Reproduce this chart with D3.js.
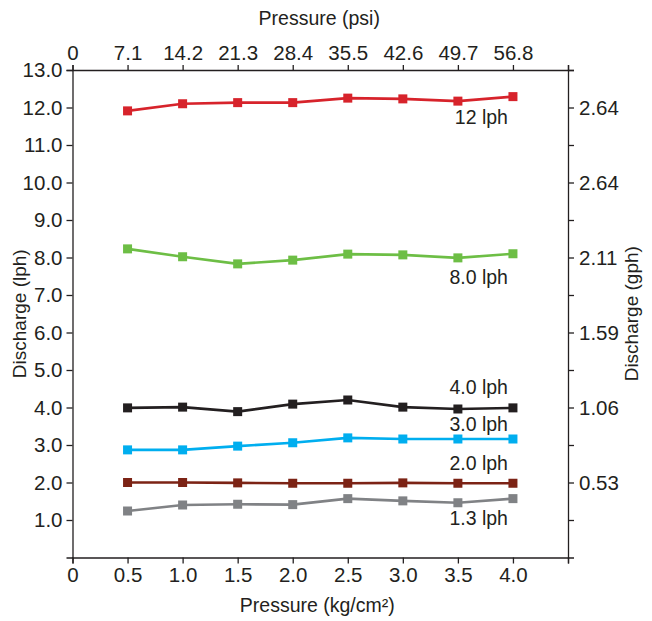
<!DOCTYPE html>
<html>
<head>
<meta charset="utf-8">
<script src="https://cdn.jsdelivr.net/npm/d3@7"></script>
<style>
  body { margin: 0; background: #fff; }
  text { font-family: Arial, "Liberation Sans", sans-serif; fill: #231f20; }
</style>
</head>
<body>
<div id="chart"></div>
<script>
var svgWidth = 652;
var svgHeight = 621;

// data
var pressureKg = [0.5, 1.0, 1.5, 2.0, 2.5, 3.0, 3.5, 4.0];
var psiTicks = ["0", "7.1", "14.2", "21.3", "28.4", "35.5", "42.6", "49.7", "56.8", ""];
var gphTicks = ["0.53", "1.06", "1.59", "2.11", "2.64", "2.64"];

var s12 = [11.91, 12.10, 12.13, 12.13, 12.25, 12.23, 12.17, 12.29];
var s8 = [8.23, 8.02, 7.83, 7.93, 8.09, 8.07, 7.99, 8.10];
var s4 = [3.99, 4.01, 3.89, 4.09, 4.20, 4.01, 3.96, 3.99];
var s3 = [2.87, 2.87, 2.97, 3.06, 3.19, 3.16, 3.16, 3.16];
var s2 = [2.00, 2.00, 1.99, 1.98, 1.98, 1.99, 1.98, 1.98];
var s13 = [1.24, 1.40, 1.42, 1.41, 1.57, 1.51, 1.46, 1.57];

var seriesNames = ["12 lph", "8.0 lph", "4.0 lph", "3.0 lph", "2.0 lph", "1.3 lph"];
var seriesValues = [s12, s8, s4, s3, s2, s13];
var seriesColors = ["#d7232b", "#6dbe45", "#231f20", "#00aeef", "#7c2315", "#808285"];

var chartMargin = { top: 70, right: 84, bottom: 63.5, left: 72.5 };
var chartWidth = svgWidth - chartMargin.left - chartMargin.right;
var chartHeight = svgHeight - chartMargin.top - chartMargin.bottom;

var svg = d3.select("#chart")
  .append("svg")
  .attr("width", svgWidth)
  .attr("height", svgHeight);

var chartGroup = svg.append("g")
  .attr("transform", `translate(${chartMargin.left}, ${chartMargin.top})`);

// scales
var xScale = d3.scaleLinear().domain([0, 4.5]).range([0, chartWidth]);
var yScale = d3.scaleLinear().domain([0, 13]).range([chartHeight, 0]);

function styleAxis(g) {
  g.selectAll("path").attr("stroke", "#231f20").attr("stroke-width", 1.3);
  g.selectAll("line").attr("stroke", "#231f20").attr("stroke-width", 1.3);
  g.selectAll("text").attr("font-size", 20.5).attr("fill", "#231f20");
}

// bottom axis
var bottomAxis = d3.axisBottom(xScale)
  .tickValues([0, 0.5, 1, 1.5, 2, 2.5, 3, 3.5, 4, 4.5])
  .tickFormat(d => d === 0 ? "0" : (d === 4.5 ? "" : d3.format(".1f")(d)))
  .tickSizeOuter(0).tickSize(6).tickPadding(4);
chartGroup.append("g")
  .attr("transform", `translate(0, ${chartHeight})`)
  .call(bottomAxis)
  .call(styleAxis);

// top axis (psi), same positions as kg/cm2
var topAxis = d3.axisTop(xScale)
  .tickValues(d3.range(psiTicks.length).map(i => i * 0.5))
  .tickFormat((d, i) => psiTicks[i])
  .tickSizeOuter(0).tickSize(5).tickPadding(5);
chartGroup.append("g")
  .call(topAxis)
  .call(styleAxis);

// left axis
var leftAxis = d3.axisLeft(yScale)
  .tickValues(d3.range(1, 14))
  .tickFormat(d3.format(".1f"))
  .tickSizeOuter(0).tickSize(6).tickPadding(4);
chartGroup.append("g")
  .call(leftAxis)
  .call(styleAxis);

// right axis (gph), labels at even lph positions, minor ticks between
var rightAxis = d3.axisRight(yScale)
  .tickValues(d3.range(1, 14))
  .tickFormat(d => (d % 2 === 0 && d <= 12) ? gphTicks[d / 2 - 1] : "")
  .tickSizeOuter(0).tickSize(6).tickPadding(5);
chartGroup.append("g")
  .attr("transform", `translate(${chartWidth}, 0)`)
  .call(rightAxis)
  .call(styleAxis);

// lines and markers
var line = d3.line()
  .x((d, i) => xScale(pressureKg[i]))
  .y(d => yScale(d));

var labelDy = [27, 30, -14, -8, -13, 26];

seriesValues.forEach(function(vals, k) {
  chartGroup.append("path")
    .datum(vals)
    .attr("d", line)
    .attr("fill", "none")
    .attr("stroke", seriesColors[k])
    .attr("stroke-width", 2.6);

  chartGroup.selectAll(".pt" + k)
    .data(vals)
    .enter()
    .append("rect")
    .attr("x", (d, i) => xScale(pressureKg[i]) - 4.5)
    .attr("y", d => yScale(d) - 4.5)
    .attr("width", 9)
    .attr("height", 9)
    .attr("fill", seriesColors[k]);

  chartGroup.append("text")
    .attr("x", xScale(pressureKg[pressureKg.length - 1]) - 5)
    .attr("y", yScale(vals[vals.length - 1]) + labelDy[k])
    .attr("text-anchor", "end")
    .attr("font-size", 19.5)
    .text(seriesNames[k]);
});

// axis titles
svg.append("text")
  .attr("x", chartMargin.left + xScale(2.25) - 1)
  .attr("y", 25)
  .attr("text-anchor", "middle")
  .attr("font-size", 19.5)
  .text("Pressure (psi)");

svg.append("text")
  .attr("x", chartMargin.left + xScale(2.25) - 3)
  .attr("y", 612)
  .attr("text-anchor", "middle")
  .attr("font-size", 19.5)
  .text("Pressure (kg/cm²)");

svg.append("text")
  .attr("transform", `translate(26, ${chartMargin.top + yScale(6.5)}) rotate(-90)`)
  .attr("text-anchor", "middle")
  .attr("font-size", 19)
  .text("Discharge (lph)");

svg.append("text")
  .attr("transform", `translate(638, ${chartMargin.top + yScale(6.5)}) rotate(-90)`)
  .attr("text-anchor", "middle")
  .attr("font-size", 19)
  .text("Discharge (gph)");
</script>
</body>
</html>
